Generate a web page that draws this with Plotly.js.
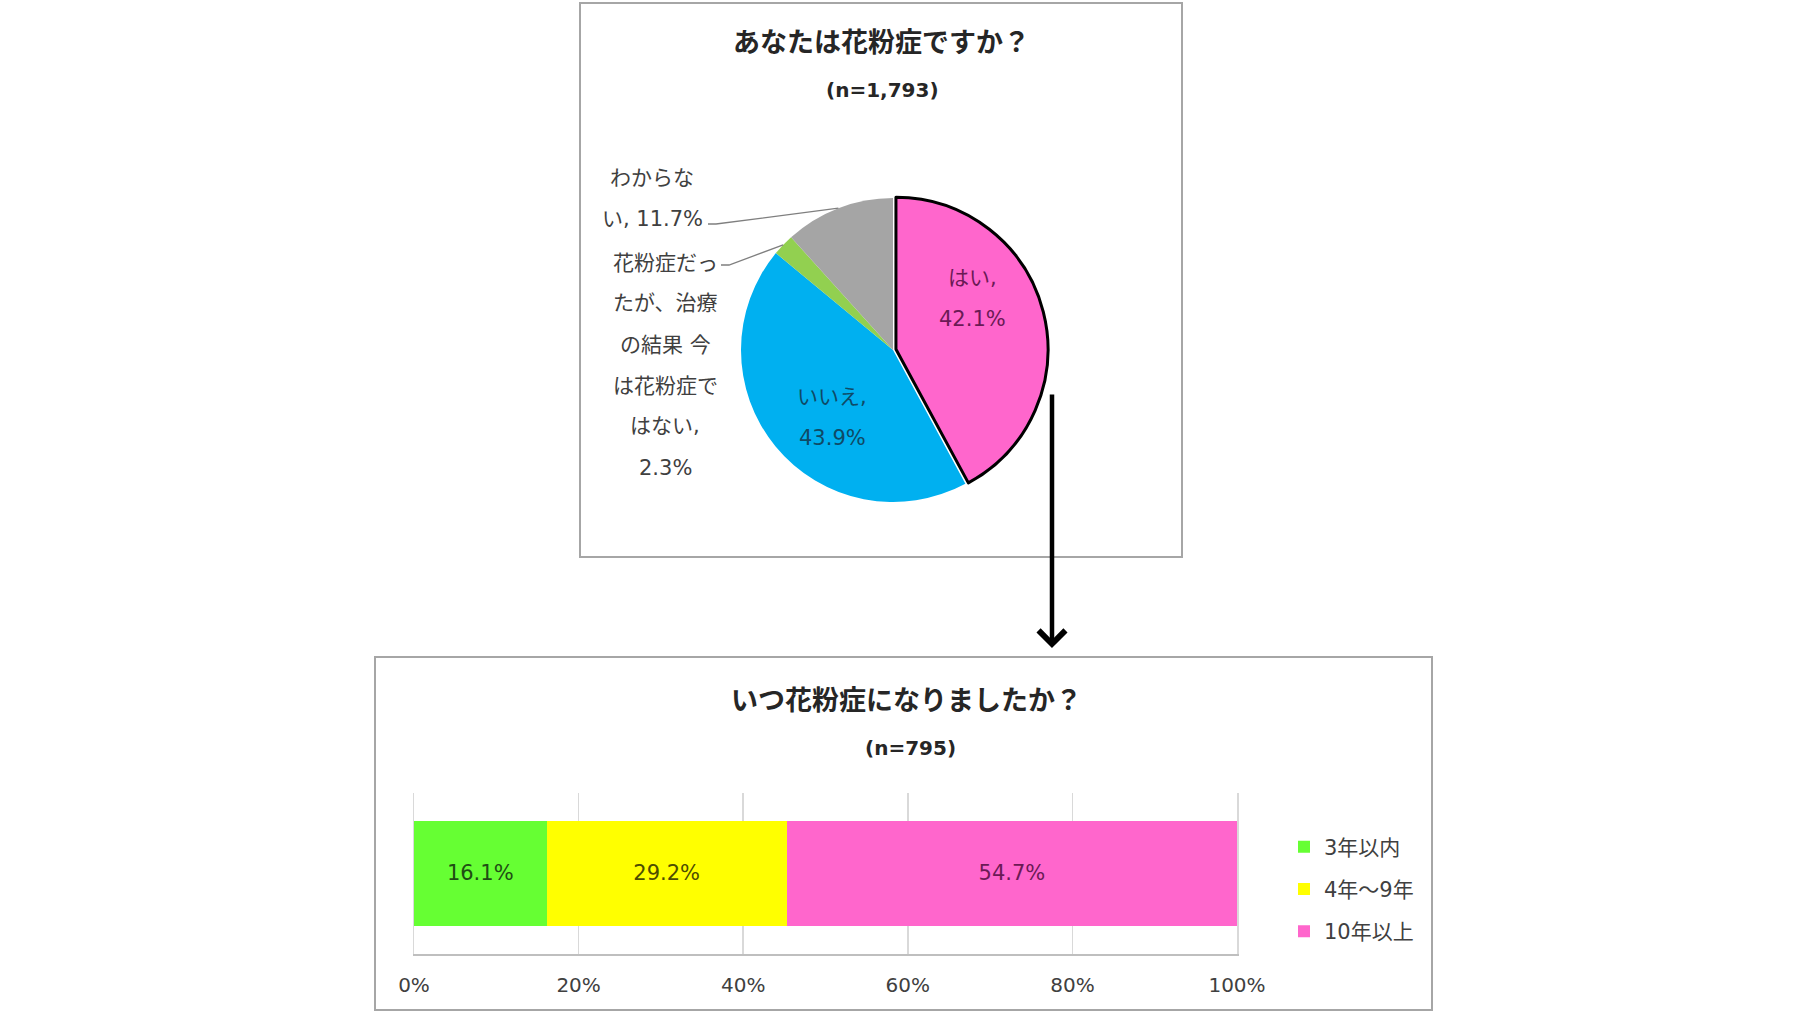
<!DOCTYPE html>
<html>
<head>
<meta charset="utf-8">
<script src="https://cdn.plot.ly/plotly-3.0.1.min.js"></script>
<style>
  html, body { margin: 0; padding: 0; background: #fff; overflow: hidden; }
</style>
</head>
<body>
<div id="chart" style="width:1807px;height:1018px"></div>
<script>
// pie: あなたは花粉症ですか？
const pieLabels = ["はい", "いいえ", "花粉症だったが、治療の結果 今は花粉症ではない", "わからない"];
const pieValues = [42.1, 43.9, 2.3, 11.7];
const pieColors = ["#FF66CC", "#00B0F0", "#92D050", "#A5A5A5"];
// how Excel wrapped the label text
const pieLabelWrap = [
  ["はい,"],
  ["いいえ,"],
  ["花粉症だっ", "たが、治療", "の結果 今", "は花粉症で", "はない,"],
  ["わからな", "い,"],
];
const pieValueSameLine = [false, false, false, true];

// bar: いつ花粉症になりましたか？
const barNames = ["3年以内", "4年～9年", "10年以上"];
const barValues = [16.1, 29.2, 54.7];
const barColors = ["#66FF33", "#FFFF00", "#FF66CC"];
const barTicks = [0, 20, 40, 60, 80, 100];
const barTickText = ["0%", "20%", "40%", "60%", "80%", "100%"];

const W = 1807;
const H = 1018;
const px = (x) => x / W;
const py = (y) => 1 - y / H;

const FONT = "'DejaVu Sans', 'Noto Sans CJK JP', sans-serif";
const JP_BOLD = "'Noto Sans CJK JP', 'DejaVu Sans', sans-serif";

// pie geometry (pixels)
const pieCx = 893;
const pieCy = 350;
const pieR = 152;
const piePull = 0.02;
const half = pieR * (1 + piePull);

const pieTextColors = ["#6b1a55", "#0f4a66", "#404040", "#404040"];
const pieLabelPos = [[972, 298], [832, 417], [665, 365], [652, 198]];
const leaderStarts = { 2: [721, 265], 3: [708, 224] };

const fmt = (v) => v.toFixed(1) + "%";

const annotations = [];
const shapes = [];

function note(x, y, text, font) {
  annotations.push({
    xref: "paper", yref: "paper",
    x: px(x), y: py(y),
    text: text, showarrow: false,
    xanchor: "center", yanchor: "middle",
    font: font,
  });
}

function textBlock(lines, cx, cy, spacing, font) {
  lines.forEach((line, i) => {
    note(cx, cy + (i - (lines.length - 1) / 2) * spacing, line, font);
  });
}

// pie labels + leader lines
const total = pieValues.reduce((s, v) => s + v, 0);
let cum = 0;
pieValues.forEach((v, i) => {
  const lines = pieLabelWrap[i].slice();
  if (pieValueSameLine[i]) {
    lines[lines.length - 1] += " " + fmt(v);
  } else {
    lines.push(fmt(v));
  }
  textBlock(lines, pieLabelPos[i][0], pieLabelPos[i][1], 41,
    { family: FONT, size: 21, color: pieTextColors[i] });

  const mid = ((cum + v / 2) / total) * 2 * Math.PI;
  cum += v;
  if (leaderStarts[i]) {
    const [sx, sy] = leaderStarts[i];
    const ex = pieCx + pieR * Math.sin(mid);
    const ey = pieCy - pieR * Math.cos(mid);
    shapes.push({
      type: "path", xref: "paper", yref: "paper",
      path: `M ${px(sx)},${py(sy)} L ${px(sx + 8)},${py(sy)} L ${px(ex)},${py(ey)}`,
      line: { color: "#7f7f7f", width: 1.3 },
    });
  }
});

// frames of the two charts
shapes.push(
  { type: "rect", xref: "paper", yref: "paper", layer: "below",
    x0: px(580), x1: px(1182), y0: py(557), y1: py(3),
    line: { color: "#a6a6a6", width: 2 } },
  { type: "rect", xref: "paper", yref: "paper", layer: "below",
    x0: px(375), x1: px(1432), y0: py(1010), y1: py(657),
    line: { color: "#a6a6a6", width: 2 } }
);

// titles
note(881, 41, "<b>あなたは花粉症ですか？</b>", { family: JP_BOLD, size: 27, color: "#262626" });
note(882, 90, "<b>(n=1,793)</b>", { family: FONT, size: 20, color: "#262626" });
note(906, 698, "<b>いつ花粉症になりましたか？</b>", { family: JP_BOLD, size: 27, color: "#262626" });
note(910, 748, "<b>(n=795)</b>", { family: FONT, size: 20, color: "#262626" });

// the arrow from the はい slice down to the second chart
annotations.push({
  xref: "paper", yref: "paper",
  x: px(1052), y: py(648),
  ax: 0, ay: -255,
  text: "", showarrow: true,
  arrowhead: 4, arrowsize: 1.15, arrowwidth: 4.5, arrowcolor: "#000",
  standoff: 0,
});

const pieTrace = {
  type: "pie",
  labels: pieLabels,
  values: pieValues,
  sort: false,
  direction: "clockwise",
  rotation: 0,
  pull: [piePull, 0, 0, 0],
  marker: { colors: pieColors, line: { color: "#000", width: [3, 0, 0, 0] } },
  textinfo: "none",
  hoverinfo: "none",
  showlegend: false,
  domain: {
    x: [px(pieCx - half), px(pieCx + half)],
    y: [py(pieCy + half), py(pieCy - half)],
  },
};

const barTextColors = ["#1f4d14", "#4d4d00", "#6b1a55"];
const barTraces = barNames.map((name, i) => ({
  type: "bar",
  orientation: "h",
  name: name,
  legendgroup: "g" + i,
  x: [barValues[i]],
  y: ["all"],
  marker: { color: barColors[i] },
  text: [fmt(barValues[i])],
  textposition: "inside",
  insidetextanchor: "middle",
  textfont: { family: FONT, size: 21, color: barTextColors[i] },
  hoverinfo: "none",
}));

const layout = {
  width: W,
  height: H,
  margin: { l: 0, r: 0, t: 0, b: 0 },
  paper_bgcolor: "#fff",
  plot_bgcolor: "rgba(0,0,0,0)",
  font: { family: FONT, color: "#404040" },
  barmode: "stack",
  bargap: 0.35,
  showlegend: true,
  legend: {
    x: px(1284), xanchor: "left",
    y: py(889), yanchor: "middle",
    traceorder: "grouped",
    tracegroupgap: 12,
    font: { family: FONT, size: 21, color: "#404040" },
    bgcolor: "rgba(0,0,0,0)",
  },
  xaxis: {
    domain: [px(414), px(1237)],
    range: [0, 100],
    tickvals: barTicks,
    ticktext: barTickText,
    showgrid: true,
    gridcolor: "#d9d9d9",
    gridwidth: 1.5,
    showline: true,
    linecolor: "#bfbfbf",
    linewidth: 2,
    zeroline: false,
    ticks: "",
    ticklabelstandoff: 12,
    tickfont: { family: FONT, size: 20, color: "#404040" },
    fixedrange: true,
  },
  yaxis: {
    domain: [py(954), py(793)],
    showline: true,
    mirror: true,
    linecolor: "#d9d9d9",
    linewidth: 1.5,
    showgrid: false,
    zeroline: false,
    showticklabels: false,
    ticks: "",
    fixedrange: true,
  },
  annotations: annotations,
  shapes: shapes,
};

Plotly.newPlot("chart", [pieTrace, ...barTraces], layout, {
  displayModeBar: false,
  staticPlot: true,
});
</script>
</body>
</html>
